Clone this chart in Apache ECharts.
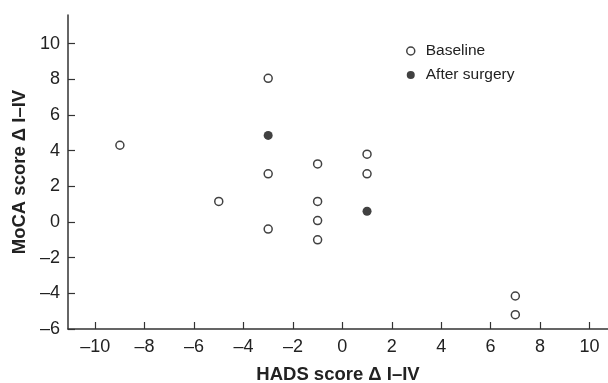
<!DOCTYPE html>
<html><head><meta charset="utf-8">
<script src="https://cdn.jsdelivr.net/npm/echarts@6/dist/echarts.min.js"></script>
<style>html,body{margin:0;padding:0;background:#fff}#c{width:608px;height:383px}</style>
</head><body><div id="c"></div>
<script>
const xTicks = [-10,-8,-6,-4,-2,0,2,4,6,8,10];
const yTicks = [-6,-4,-2,0,2,4,6,8,10];
const baselineX = [-9, -5, -3, -3, -3, -1, -1, -1, -1, 1, 1, 7, 7];
const baselineY = [4.3, 1.15, 8.05, 2.7, -0.4, 3.25, 1.15, 0.08, -1.0, 3.8, 2.7, -4.15, -5.2];
const afterX = [-3, 1];
const afterY = [4.85, 0.6];
const seriesNames = ['Baseline', 'After surgery'];

const fmt = v => String(v).replace('-', '\u2013');
const font = 'Liberation Sans, Arial, sans-serif';
const chart = echarts.init(document.getElementById('c'));
chart.setOption({
  animation: false,
  grid: {left: 68, right: 0, top: 15, bottom: 54, outerBoundsMode: 'none', containLabel: false},
  legend: {
    orient: 'vertical', left: 406, top: 43, padding: 0, itemWidth: 8, itemHeight: 8, itemGap: 8,
    textStyle: {fontFamily: font, fontSize: 15.5, color: '#222', padding: [0,0,0,6]},
    data: [
      {name: seriesNames[0], icon: 'circle', itemStyle: {color: '#fff', borderColor: '#111', borderWidth: 1.5}},
      {name: seriesNames[1], icon: 'circle', itemStyle: {color: '#111'}}
    ]
  },
  xAxis: {
    type: 'value', min: -11.1, max: 10.75, interval: 2,
    name: 'HADS score \u0394 I\u2013IV', nameLocation: 'middle', nameGap: 36,
    nameTextStyle: {fontFamily: font, fontSize: 18.5, fontWeight: 'bold', color: '#222'},
    axisLine: {onZero: false, lineStyle: {color: '#333', width: 1.5}},
    axisTick: {inside: true, length: 7, lineStyle: {color: '#333', width: 1.2}, customValues: xTicks},
    axisLabel: {fontFamily: font, fontSize: 18, color: '#222', margin: 9, formatter: fmt, customValues: xTicks},
    splitLine: {show: false}
  },
  yAxis: {
    type: 'value', min: -6, max: 11.6, interval: 2,
    name: 'MoCA score \u0394 I\u2013IV', nameLocation: 'middle', nameGap: 39,
    nameTextStyle: {fontFamily: font, fontSize: 18.5, fontWeight: 'bold', color: '#222'},
    axisLine: {onZero: false, lineStyle: {color: '#333', width: 1.5}},
    axisTick: {inside: true, length: 7, lineStyle: {color: '#333', width: 1.2}, customValues: yTicks},
    axisLabel: {fontFamily: font, fontSize: 18, color: '#222', margin: 8, formatter: fmt, customValues: yTicks},
    splitLine: {show: false}
  },
  series: [
    {name: seriesNames[0], type: 'scatter', symbol: 'circle', symbolSize: 8,
     itemStyle: {color: '#fff', borderColor: '#111', borderWidth: 1.5},
     data: baselineX.map((x, i) => [x, baselineY[i]])},
    {name: seriesNames[1], type: 'scatter', symbol: 'circle', symbolSize: 9,
     itemStyle: {color: '#111'},
     data: afterX.map((x, i) => [x, afterY[i]])}
  ]
});
</script></body></html>
